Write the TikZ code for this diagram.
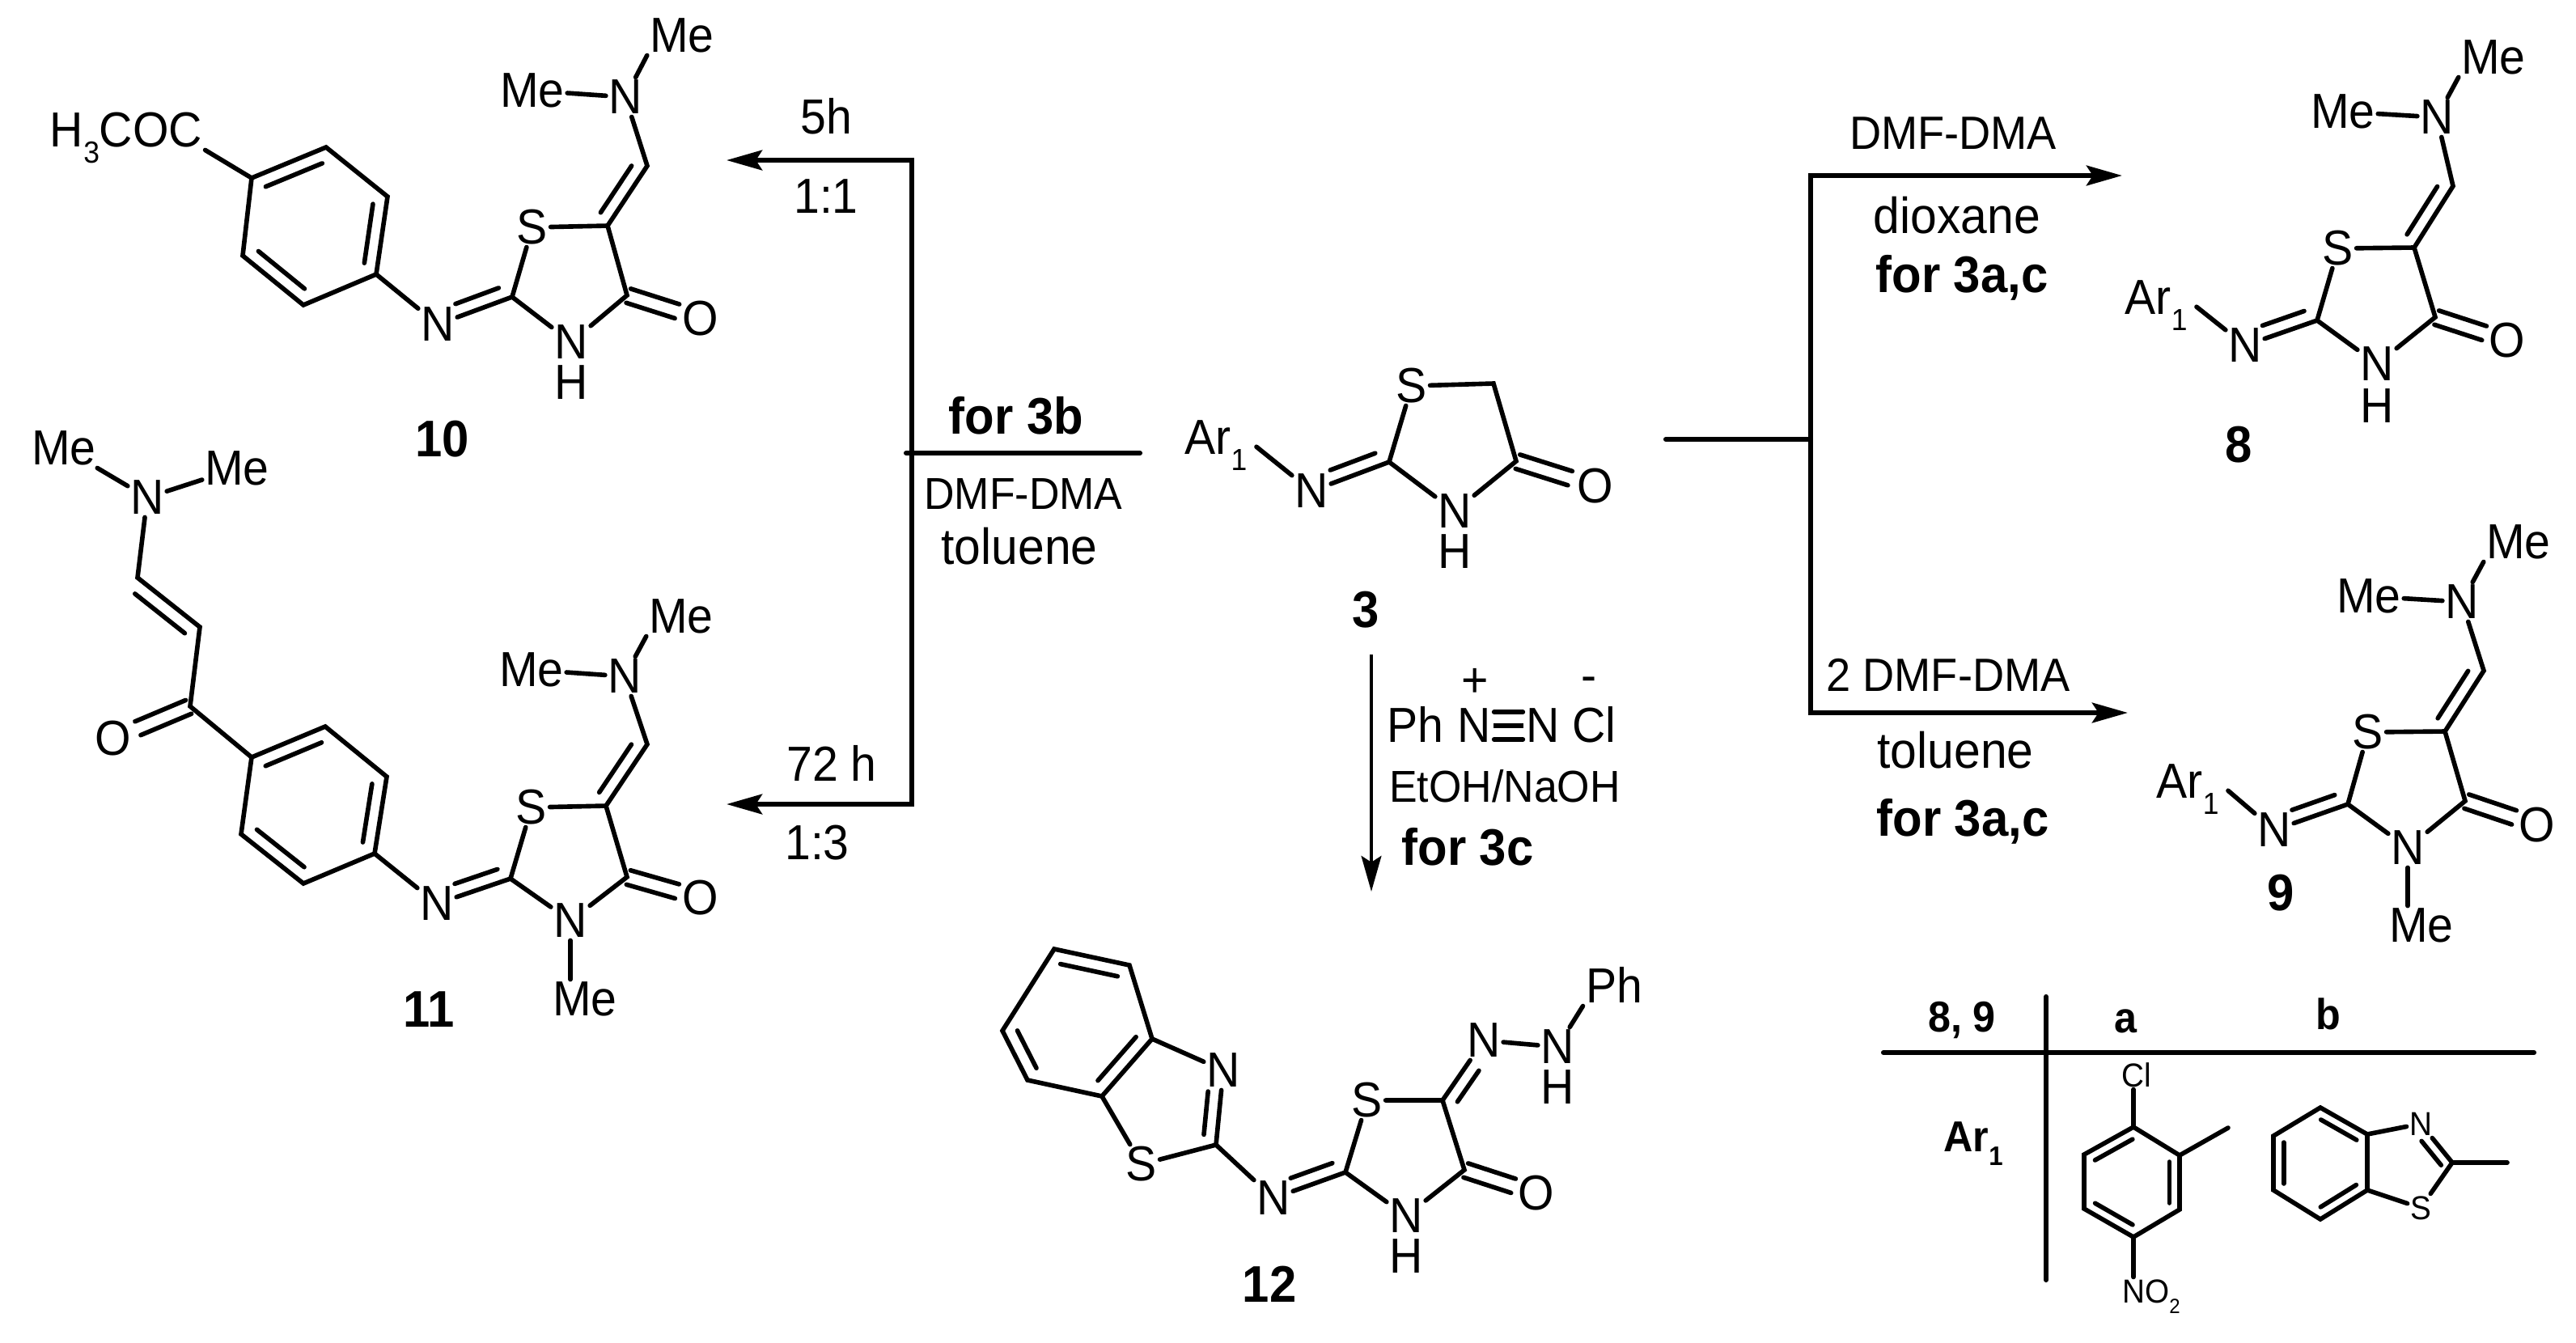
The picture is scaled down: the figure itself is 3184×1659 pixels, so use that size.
\documentclass[tikz,border=0pt]{standalone}
\usepackage{fontspec}
\setmainfont{Liberation Sans}[FakeStretch=0.94]
\usetikzlibrary{arrows.meta,calc}
\newcommand{\dbond}[5]{\draw ($(#1)!#4!(#2)!#3!90:(#2)$) -- ($(#1)!#5!(#2)!#3!90:(#2)$);}
\newcommand{\ringb}[3]{\dbond{#1}{#2}{#3}{.12}{.88}}
\newcommand{\cobond}[2]{\dbond{#1}{#2}{2.6pt}{.02}{.68}\dbond{#1}{#2}{-2.6pt}{.02}{.68}}
\newcommand{\lowsub}[1]{\raisebox{-.32em}{\scalebox{.62}{#1}}}
\tikzset{
	atom/.style = {font=\fontsize{17.3}{18}\selectfont, text height=11.9pt, text depth=0pt, inner sep=1pt, outer sep=0pt},
	smallatom/.style = {font=\fontsize{11.7}{12}\selectfont, text height=8pt, text depth=0pt, inner sep=1pt, outer sep=0pt},
	cpd/.style = {font=\fontsize{18.1}{19}\selectfont\bfseries, text height=12.4pt, text depth=0pt, inner sep=0pt},
	tabhead/.style = {font=\fontsize{15.2}{16}\selectfont\bfseries, text height=10.5pt, text depth=0pt, inner sep=0pt},
	solv/.style = {font=\fontsize{17.8}{19}\selectfont, text height=12.2pt, text depth=0pt, inner sep=0pt},
	reag/.style = {font=\fontsize{16.4}{17}\selectfont, text height=11.3pt, text depth=0pt, inner sep=0pt},
	reags/.style = {font=\fontsize{15.7}{16}\selectfont, text height=10.8pt, text depth=0pt, inner sep=0pt},
	arr/.style = {line width=1.75pt, line cap=butt, -{Stealth[length=12.5pt, width=7pt, inset=2.2pt]}},
	rule/.style = {line width=1.75pt}
}
\begin{document}
\begin{tikzpicture}[x=0.01cm, y=-0.01cm, line width=1.6pt, line cap=round]
	\useasboundingbox (0,0) rectangle (3184,1659);

	\node[atom] (Mea10) at (843,44) {Me};
	\node[atom] (Meb10) at (658,112) {Me};
	\node[atom] (Nm10) at (773,120) {N};
	\coordinate (CH10) at (800,205);
	\coordinate (Ce10) at (751,279);
	\node[atom] (S10) at (658,281) {S};
	\coordinate (Cb10) at (633,367);
	\coordinate (Cd10) at (775,365);
	\node[atom] (Ni10) at (541,401) {N};
	\node[atom] (N10) at (706,423) {N};
	\node[atom] (H10) at (706,473) {H};
	\node[atom] (O10) at (866,394) {O};
	\node[atom] (acyl10) at (156,161) {H\lowsub{3}COC};
	\coordinate (ba10) at (311,220);
	\coordinate (bb10) at (300,316);
	\coordinate (bc10) at (375,377);
	\coordinate (bd10) at (465,339);
	\coordinate (be10) at (479,243);
	\coordinate (bf10) at (403,182);
	\node[cpd] (lab10) at (547,543) {10};
	\draw (Nm10) -- (Mea10.south west);
	\draw (Nm10) -- (Meb10);
	\draw (Nm10) -- (CH10) -- (Ce10) -- (S10);
	\draw (S10) -- (Cb10) -- (N10);
	\draw (N10) -- (Cd10) -- (Ce10);
	\draw (Cb10) -- (Ni10);
	\draw (Ni10) -- (bd10);
	\dbond{Ce10}{CH10}{4.6pt}{.1}{.88}
	\dbond{Cb10}{Ni10}{-4.6pt}{.12}{.7}
	\cobond{Cd10}{O10}
	\draw (ba10) -- (bb10) -- (bc10) -- (bd10) -- (be10) -- (bf10) -- cycle;
	\draw (ba10) -- (acyl10.south east);
	\ringb{bf10}{ba10}{4.7pt}
	\ringb{bb10}{bc10}{4.7pt}
	\ringb{bd10}{be10}{4.7pt}

	\node[atom] (Mea11) at (842,762) {Me};
	\node[atom] (Meb11) at (657,828) {Me};
	\node[atom] (Nm11) at (772,836) {N};
	\coordinate (CH11) at (800,920);
	\coordinate (Ce11) at (749,996);
	\node[atom] (S11) at (657,998) {S};
	\coordinate (Cb11) at (631,1086);
	\coordinate (Cd11) at (775,1084);
	\node[atom] (Ni11) at (540,1117) {N};
	\node[atom] (N11) at (705,1138) {N};
	\node[atom] (Mec11) at (723,1235) {Me};
	\node[atom] (O11) at (866,1110) {O};
	\node[atom] (Mel11) at (79,554) {Me};
	\node[atom] (Mer11) at (293,579) {Me};
	\node[atom] (Nv11) at (182,615) {N};
	\coordinate (Va11) at (170,714);
	\coordinate (Vb11) at (247,775);
	\coordinate (Vc11) at (235,873);
	\node[atom] (Ok11) at (140,913) {O};
	\coordinate (ba11) at (311,936);
	\coordinate (bb11) at (298,1031);
	\coordinate (bc11) at (375,1092);
	\coordinate (bd11) at (463,1055);
	\coordinate (be11) at (478,960);
	\coordinate (bf11) at (402,898);
	\node[cpd] (lab11) at (530,1248) {11};
	\draw (Nm11) -- (Mea11.south west);
	\draw (Nm11) -- (Meb11);
	\draw (Nm11) -- (CH11) -- (Ce11) -- (S11);
	\draw (S11) -- (Cb11) -- (N11);
	\draw (N11) -- (Cd11) -- (Ce11);
	\draw (N11) -- (N11 |- Mec11.north);
	\draw (Cb11) -- (Ni11);
	\draw (Ni11) -- (bd11);
	\dbond{Ce11}{CH11}{4.6pt}{.1}{.88}
	\dbond{Cb11}{Ni11}{-4.6pt}{.12}{.7}
	\cobond{Cd11}{O11}
	\draw (Nv11) -- (Mel11);
	\draw (Nv11) -- (Mer11);
	\draw (Nv11) -- (Va11) -- (Vb11) -- (Vc11) -- (ba11);
	\dbond{Va11}{Vb11}{-5pt}{.1}{.9}
	\cobond{Vc11}{Ok11}
	\draw (ba11) -- (bb11) -- (bc11) -- (bd11) -- (be11) -- (bf11) -- cycle;
	\ringb{bf11}{ba11}{4.7pt}
	\ringb{bb11}{bc11}{4.7pt}
	\ringb{bd11}{be11}{4.7pt}

	\coordinate (jl) at (1120,560);
	\coordinate (el) at (1409,560);
	\coordinate (jm) at (1127,560);
	\coordinate (ca10) at (1127,198);
	\coordinate (tip10) at (898,198);
	\coordinate (ca11) at (1127,994);
	\coordinate (tip11) at (898,994);
	\draw[arr] (jm) -- (ca10) -- (tip10);
	\draw[arr] (jm) -- (ca11) -- (tip11);
	\draw[rule] (jl) -- (el);
	\node[atom] (t5h) at (1021,145) {5h};
	\node[atom] (r11) at (1021,243) {1:1};
	\node[atom] (t72h) at (1028,945) {72 h};
	\node[atom] (r13) at (1010,1042) {1:3};
	\node[cpd] (for3b) at (1256,515) {for 3b};
	\node[reags] (dmfl) at (1265,610) {DMF-DMA};
	\node[solv] (toll) at (1260,676) {toluene};

	\node[atom] (Ar3) at (1503,541) {Ar\lowsub{1}};
	\node[atom] (Ni3) at (1621,607) {N};
	\coordinate (Cb3) at (1717,571);
	\node[atom] (S3) at (1745,477) {S};
	\coordinate (Ce3) at (1846,474);
	\coordinate (Cd3) at (1874,570);
	\node[atom] (O3) at (1972,601) {O};
	\node[atom] (N3) at (1798,632) {N};
	\node[atom] (H3) at (1798,682) {H};
	\node[cpd] (lab3) at (1688,754) {3};
	\draw ($(Ar3.-15)+(8,0)$) -- (Ni3);
	\draw (Ni3) -- (Cb3) -- (S3);
	\draw (S3) -- (Ce3) -- (Cd3) -- (N3);
	\draw (N3) -- (Cb3);
	\dbond{Cb3}{Ni3}{-4.6pt}{.12}{.7}
	\cobond{Cd3}{O3}

	\coordinate (dn) at (1695,809);
	\coordinate (tipdn) at (1695,1102);
	\draw[arr, line width=1.4pt] (dn) -- (tipdn);
	\node[atom] (plus) at (1823,841) {+};
	\node[atom] (minus) at (1964,835) {-};
	\node[atom] (Ph) at (1749,897) {Ph};
	\node[atom] (Nl) at (1822,897) {N};
	\node[atom] (Nr) at (1907,897) {N};
	\node[atom] (Cl) at (1970,897) {Cl};
	\draw[line cap=butt] (Nl) -- (Nr);
	\dbond{Nl}{Nr}{4.8pt}{.29}{.71}
	\dbond{Nl}{Nr}{-4.8pt}{.29}{.71}
	\node[reags] (etoh) at (1860,972) {EtOH/NaOH};
	\node[cpd] (for3c) at (1814,1048) {for 3c};

	\coordinate (sr) at (2059,543);
	\coordinate (jr) at (2238,543);
	\coordinate (ca8) at (2238,217);
	\coordinate (tip8) at (2623,217);
	\coordinate (ca9) at (2238,881);
	\coordinate (tip9) at (2630,881);
	\draw[rule] (sr) -- (jr);
	\draw[arr] (jr) -- (ca8) -- (tip8);
	\draw[arr] (jr) -- (ca9) -- (tip9);
	\node[reag] (dmf8) at (2414,165) {DMF-DMA};
	\node[solv] (diox) at (2419,267) {dioxane};
	\node[cpd] (for8) at (2425,340) {for 3a,c};
	\node[reag] (dmf9) at (2408,835) {2 DMF-DMA};
	\node[solv] (tol9) at (2417,928) {toluene};
	\node[cpd] (for9) at (2426,1012) {for 3a,c};

	\node[atom] (Mea8) at (3082,71) {Me};
	\node[atom] (Meb8) at (2896,138) {Me};
	\node[atom] (Nm8) at (3012,145) {N};
	\coordinate (CH8) at (3032,230);
	\coordinate (Ce8) at (2984,306);
	\node[atom] (S8) at (2890,307) {S};
	\coordinate (Cb8) at (2864,396);
	\coordinate (Cd8) at (3010,392);
	\node[atom] (Ni8) at (2775,427) {N};
	\node[atom] (N8) at (2938,450) {N};
	\node[atom] (H8) at (2938,502) {H};
	\node[atom] (O8) at (3099,421) {O};
	\node[atom] (Ar8) at (2665,368) {Ar\lowsub{1}};
	\node[cpd] (lab8) at (2767,550) {8};
	\draw (Nm8) -- (Mea8.south west);
	\draw (Nm8) -- (Meb8);
	\draw (Nm8) -- (CH8) -- (Ce8) -- (S8);
	\draw (S8) -- (Cb8) -- (N8);
	\draw (N8) -- (Cd8) -- (Ce8);
	\draw (Cb8) -- (Ni8);
	\draw (Ni8) -- ($(Ar8.-15)+(8,0)$);
	\dbond{Ce8}{CH8}{4.6pt}{.1}{.88}
	\dbond{Cb8}{Ni8}{-4.6pt}{.12}{.7}
	\cobond{Cd8}{O8}

	\node[atom] (Mea9) at (3113,670) {Me};
	\node[atom] (Meb9) at (2928,737) {Me};
	\node[atom] (Nm9) at (3043,744) {N};
	\coordinate (CH9) at (3070,829);
	\coordinate (Ce9) at (3022,904);
	\node[atom] (S9) at (2927,905) {S};
	\coordinate (Cb9) at (2902,994);
	\coordinate (Cd9) at (3047,990);
	\node[atom] (Ni9) at (2811,1026) {N};
	\node[atom] (N9) at (2976,1048) {N};
	\node[atom] (Mec9) at (2993,1144) {Me};
	\node[atom] (O9) at (3136,1020) {O};
	\node[atom] (Ar9) at (2704,966) {Ar\lowsub{1}};
	\node[cpd] (lab9) at (2819,1104) {9};
	\draw (Nm9) -- (Mea9.south west);
	\draw (Nm9) -- (Meb9);
	\draw (Nm9) -- (CH9) -- (Ce9) -- (S9);
	\draw (S9) -- (Cb9) -- (N9);
	\draw (N9) -- (Cd9) -- (Ce9);
	\draw (N9) -- (N9 |- Mec9.north);
	\draw (Cb9) -- (Ni9);
	\draw (Ni9) -- ($(Ar9.-15)+(8,0)$);
	\dbond{Ce9}{CH9}{4.6pt}{.1}{.88}
	\dbond{Cb9}{Ni9}{-4.6pt}{.12}{.7}
	\cobond{Cd9}{O9}

	\coordinate (ba12) at (1303,1173);
	\coordinate (bb12) at (1239,1274);
	\coordinate (bc12) at (1270,1335);
	\coordinate (bd12) at (1362,1355);
	\coordinate (be12) at (1424,1284);
	\coordinate (bf12) at (1396,1193);
	\node[atom] (Nt12) at (1512,1323) {N};
	\coordinate (Ct12) at (1503,1415);
	\node[atom] (St12) at (1411,1439) {S};
	\node[atom] (Ni12) at (1574,1481) {N};
	\coordinate (Cb12) at (1663,1449);
	\node[atom] (S12) at (1690,1360) {S};
	\coordinate (Ce12) at (1783,1360);
	\coordinate (Cd12) at (1810,1446);
	\node[atom] (O12) at (1899,1475) {O};
	\node[atom] (N12) at (1738,1503) {N};
	\node[atom] (H12) at (1738,1553) {H};
	\node[atom] (Nh12) at (1834,1286) {N};
	\node[atom] (Nn12) at (1925,1294) {N};
	\node[atom] (Hn12) at (1925,1344) {H};
	\node[atom] (Ph12) at (1995,1219) {Ph};
	\node[cpd] (lab12) at (1569,1588) {12};
	\draw (ba12) -- (bb12) -- (bc12) -- (bd12) -- (be12) -- (bf12) -- cycle;
	\ringb{bf12}{ba12}{4.7pt}
	\ringb{bb12}{bc12}{4.7pt}
	\ringb{bd12}{be12}{4.7pt}
	\draw (be12) -- (Nt12);
	\draw (Nt12) -- (Ct12) -- (St12);
	\draw (St12) -- (bd12);
	\dbond{Ct12}{Nt12}{4.6pt}{.12}{.7}
	\draw (Ct12) -- (Ni12);
	\draw (Ni12) -- (Cb12) -- (S12);
	\draw (S12) -- (Ce12) -- (Cd12) -- (N12);
	\draw (N12) -- (Cb12);
	\dbond{Cb12}{Ni12}{-4.6pt}{.12}{.7}
	\cobond{Cd12}{O12}
	\draw (Ce12) -- (Nh12);
	\dbond{Ce12}{Nh12}{-4.6pt}{.1}{.62}
	\draw (Nh12) -- (Nn12);
	\draw (Nn12) -- (Ph12.south west);

	\coordinate (tva) at (2529,1232);
	\coordinate (tvb) at (2529,1582);
	\coordinate (tha) at (2328,1301);
	\coordinate (thb) at (3132,1301);
	\draw[rule] (tva) -- (tvb);
	\draw[rule] (tha) -- (thb);
	\node[tabhead] (h89) at (2425,1257) {8, 9};
	\node[tabhead] (ha) at (2627,1258) {a};
	\node[tabhead] (hb) at (2878,1254) {b};
	\node[tabhead] (hAr) at (2439,1405) {Ar\lowsub{1}};

	\coordinate (ra) at (2637,1393);
	\coordinate (rb) at (2576,1427);
	\coordinate (rc) at (2576,1494);
	\coordinate (rd) at (2637,1529);
	\coordinate (re) at (2694,1495);
	\coordinate (rf) at (2694,1428);
	\coordinate (rm) at (2754,1394);
	\node[smallatom] (Cla) at (2641,1329) {Cl};
	\node[smallatom] (NOa) at (2659,1596) {NO\lowsub{2}};
	\draw (ra) -- (rb) -- (rc) -- (rd) -- (re) -- (rf) -- cycle;
	\ringb{ra}{rb}{3.6pt}
	\ringb{rc}{rd}{3.6pt}
	\ringb{re}{rf}{3.6pt}
	\draw (ra) -- (ra |- Cla.south);
	\draw (rd) -- (rd |- NOa.north);
	\draw (rf) -- (rm);

	\coordinate (qa) at (2868,1369);
	\coordinate (qb) at (2810,1404);
	\coordinate (qc) at (2810,1471);
	\coordinate (qd) at (2868,1507);
	\coordinate (qe) at (2926,1471);
	\coordinate (qf) at (2926,1402);
	\coordinate (qt) at (3031,1437);
	\coordinate (qm) at (3099,1437);
	\node[smallatom] (Nb) at (2992,1389) {N};
	\node[smallatom] (Sb) at (2992,1493) {S};
	\draw (qa) -- (qb) -- (qc) -- (qd) -- (qe) -- (qf) -- cycle;
	\ringb{qb}{qc}{3.6pt}
	\ringb{qd}{qe}{3.6pt}
	\ringb{qf}{qa}{3.6pt}
	\draw (qf) -- (Nb);
	\draw (Nb) -- (qt) -- (Sb);
	\draw (Sb) -- (qe);
	\dbond{qt}{Nb}{3.6pt}{.1}{.72}
	\draw (qt) -- (qm);
\end{tikzpicture}
\end{document}
